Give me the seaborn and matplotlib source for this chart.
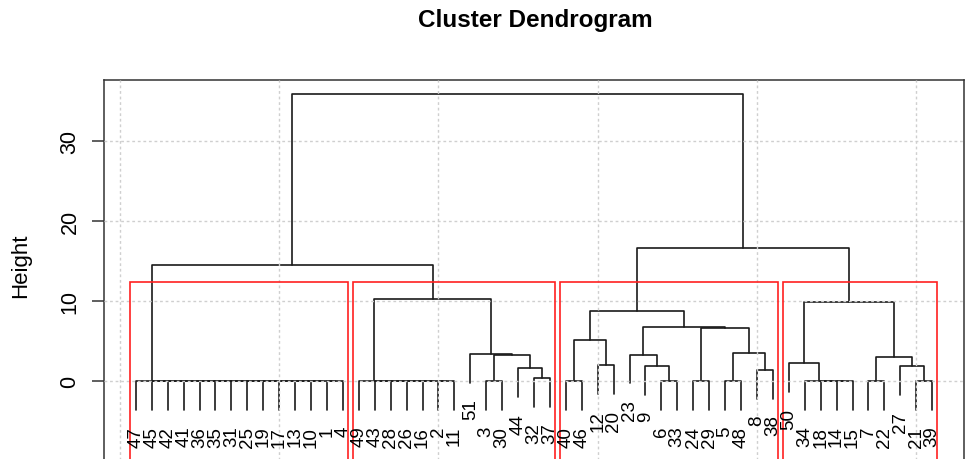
import numpy as np
import pandas as pd
import matplotlib
matplotlib.use("Agg")
import matplotlib.pyplot as plt
from matplotlib.patches import Rectangle
import seaborn as sns

# ─── Tree (R hclust merge convention) ───
# negative = leaf label, positive = row of an earlier merge (1-based)
merge_left = [
    -1, -10, -13, -17, -19, -25, -31, -35, -36, -41, -42, -45, -47,   # cluster 1 (all at 0)
    -2, -16, -26, -28, -43, -49,                                      # cluster 2, left part
    -3, -32, -44, 20, -51, 19,                                        # cluster 2, right part
    -40, -12, 26, -6, -9, -23, -24, -5, -8, 33, 32, 31, 28,           # cluster 3
    -14, -18, -34, -50, -7, -21, -27, 43, 42,                         # cluster 4
    13, 38, 48,                                                       # top
]
merge_right = [
    -4, 1, 2, 3, 4, 5, 6, 7, 8, 9, 10, 11, 12,
    -11, 14, 15, 16, 17, 18,
    -30, -37, 21, 22, 23, 24,
    -46, -20, 27, -33, 29, 30, -29, -48, -38, 34, 35, 36, 37,
    -15, 39, 40, 41, -22, -39, 44, 45, 46,
    25, 47, 49,
]
merge_height = [
    0, 0, 0, 0, 0, 0, 0, 0, 0, 0, 0, 0, 0,
    0, 0, 0, 0, 0, 0,
    0, 0.4, 1.6, 3.3, 3.4, 10.2,
    0, 2.0, 5.1, 0, 1.9, 3.3, 0, 0, 1.4, 3.5, 6.6, 6.7, 8.8,
    0, 0, 0, 2.25, 0, 0, 1.9, 3.0, 9.9,
    14.5, 16.6, 35.9,
]
cluster_sizes = [14, 13, 14, 10]   # rect.hclust(k = 4)
y_ticks = [0, 10, 20, 30]
x_grid = [0, 10, 20, 30, 40, 50]
hang = 0.1

# ─── Leaf order and node positions ───────────────────────
def leaf_order_of(ref):
    if ref < 0:
        return [-ref]
    return leaf_order_of(merge_left[ref - 1]) + leaf_order_of(merge_right[ref - 1])

n_merge = len(merge_height)
leaf_order = leaf_order_of(n_merge)
xpos = {lab: k + 1 for k, lab in enumerate(leaf_order)}

def node_x(ref):
    if ref < 0:
        return xpos[-ref]
    return (node_x(merge_left[ref - 1]) + node_x(merge_right[ref - 1])) / 2

hang_len = hang * (max(merge_height) - min(merge_height))

rows, leaf_bottom = [], {}
for i in range(n_merge):
    h = merge_height[i]
    ends = []
    for ref in (merge_left[i], merge_right[i]):
        if ref < 0:
            yb = h - hang_len
            leaf_bottom[-ref] = yb
        else:
            yb = merge_height[ref - 1]
        ends.append((node_x(ref), yb))
    (xl, yl), (xr, yr) = ends
    for k, (x, y) in enumerate([(xl, yl), (xl, h), (xr, h), (xr, yr)]):
        rows.append({'node': i, 'step': k, 'x': x, 'y': y})
segs = pd.DataFrame(rows)

# ─── Figure ──────────────────────────────────────────────
sns.set_theme(style="ticks")
plt.rcParams['font.family'] = ['Liberation Sans', 'DejaVu Sans']

W, H = 967, 460
fig = plt.figure(figsize=(W / 100, H / 100), dpi=100)
ax = fig.add_axes([104 / W, -40 / H, 860 / W, 419 / H])

sns.lineplot(data=segs, x='x', y='y', units='node', estimator=None, sort=False,
             color='#1a1a1a', lw=1.2, legend=False, ax=ax, zorder=2)

ax.set_xlim(-1, 53)
ax.set_ylim(37.625 - 419 / 8, 37.625)

# leaf labels hang under each leaf
for lab in leaf_order:
    ax.text(xpos[lab], leaf_bottom[lab] - 2.0, str(lab), rotation=90,
            ha='center', va='top', fontsize=13.5, color='black', zorder=5)

# grid drawn after the tree, like grid() in R
for gx in x_grid:
    ax.axvline(gx, color='#cfcfcf', ls=(0, (2, 2)), lw=1, zorder=3)
for gy in y_ticks:
    ax.axhline(gy, color='#cfcfcf', ls=(0, (2, 2)), lw=1, zorder=3)

# rect.hclust boxes
top_h = np.mean(sorted(merge_height, reverse=True)[2:4])
ybot = ax.get_ylim()[0]
start = 0
for size in cluster_sizes:
    ax.add_patch(Rectangle((start + 0.66, ybot), size - 0.33, top_h - ybot,
                           fill=False, edgecolor='#ff2020', lw=1.2, zorder=4))
    start += size

ax.set_xticks([])
ax.set_yticks(y_ticks)
ax.set_xlabel('')
ax.set_ylabel('')
ax.tick_params(axis='y', left=True, length=9, width=1.1, pad=8, labelsize=15.5,
               labelrotation=90, color='#333333', labelcolor='black')
for t in ax.get_yticklabels():
    t.set_va('center')
for sp in ax.spines.values():
    sp.set_visible(True)
    sp.set_color('#333333')
    sp.set_linewidth(1.1)

fig.text(21 / W, 1 - 266 / H, 'Height', rotation=90, ha='center', va='center',
         fontsize=16, color='black')
fig.text(535 / W, 1 - 20 / H, 'Cluster Dendrogram', ha='center', va='center',
         fontsize=17.5, fontweight='bold', color='black')

plt.savefig('out.png', dpi=100)
plt.close()
